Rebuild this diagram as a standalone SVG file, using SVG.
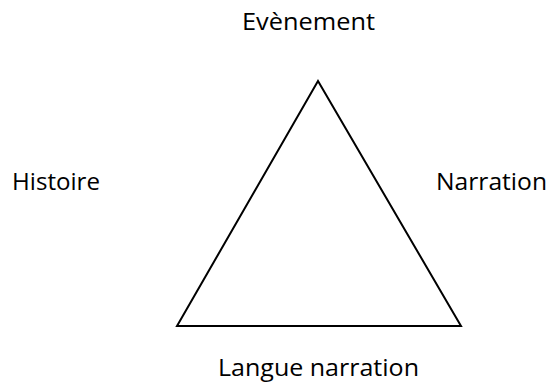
<svg xmlns="http://www.w3.org/2000/svg" width="549" height="383" viewBox="0 0 549 383">
<style>
text{font-family:"Open Sans","Liberation Sans",sans-serif;font-size:23px;fill:#000}
.edge{fill:none;stroke:#000;stroke-width:2}
</style>
<rect width="549" height="383" fill="#fff"/>
<g id="connectors">
<polygon class="edge" points="318,81 177,326 461,326"/>
</g>
<g id="evenement"><text x="242" y="30" textLength="133" lengthAdjust="spacingAndGlyphs">Evènement</text></g>
<g id="histoire"><text x="12" y="190" textLength="88" lengthAdjust="spacingAndGlyphs">Histoire</text></g>
<g id="narration"><text x="436" y="190" textLength="111" lengthAdjust="spacingAndGlyphs">Narration</text></g>
<g id="langue"><text x="218" y="376" textLength="201" lengthAdjust="spacingAndGlyphs">Langue narration</text></g>
</svg>
